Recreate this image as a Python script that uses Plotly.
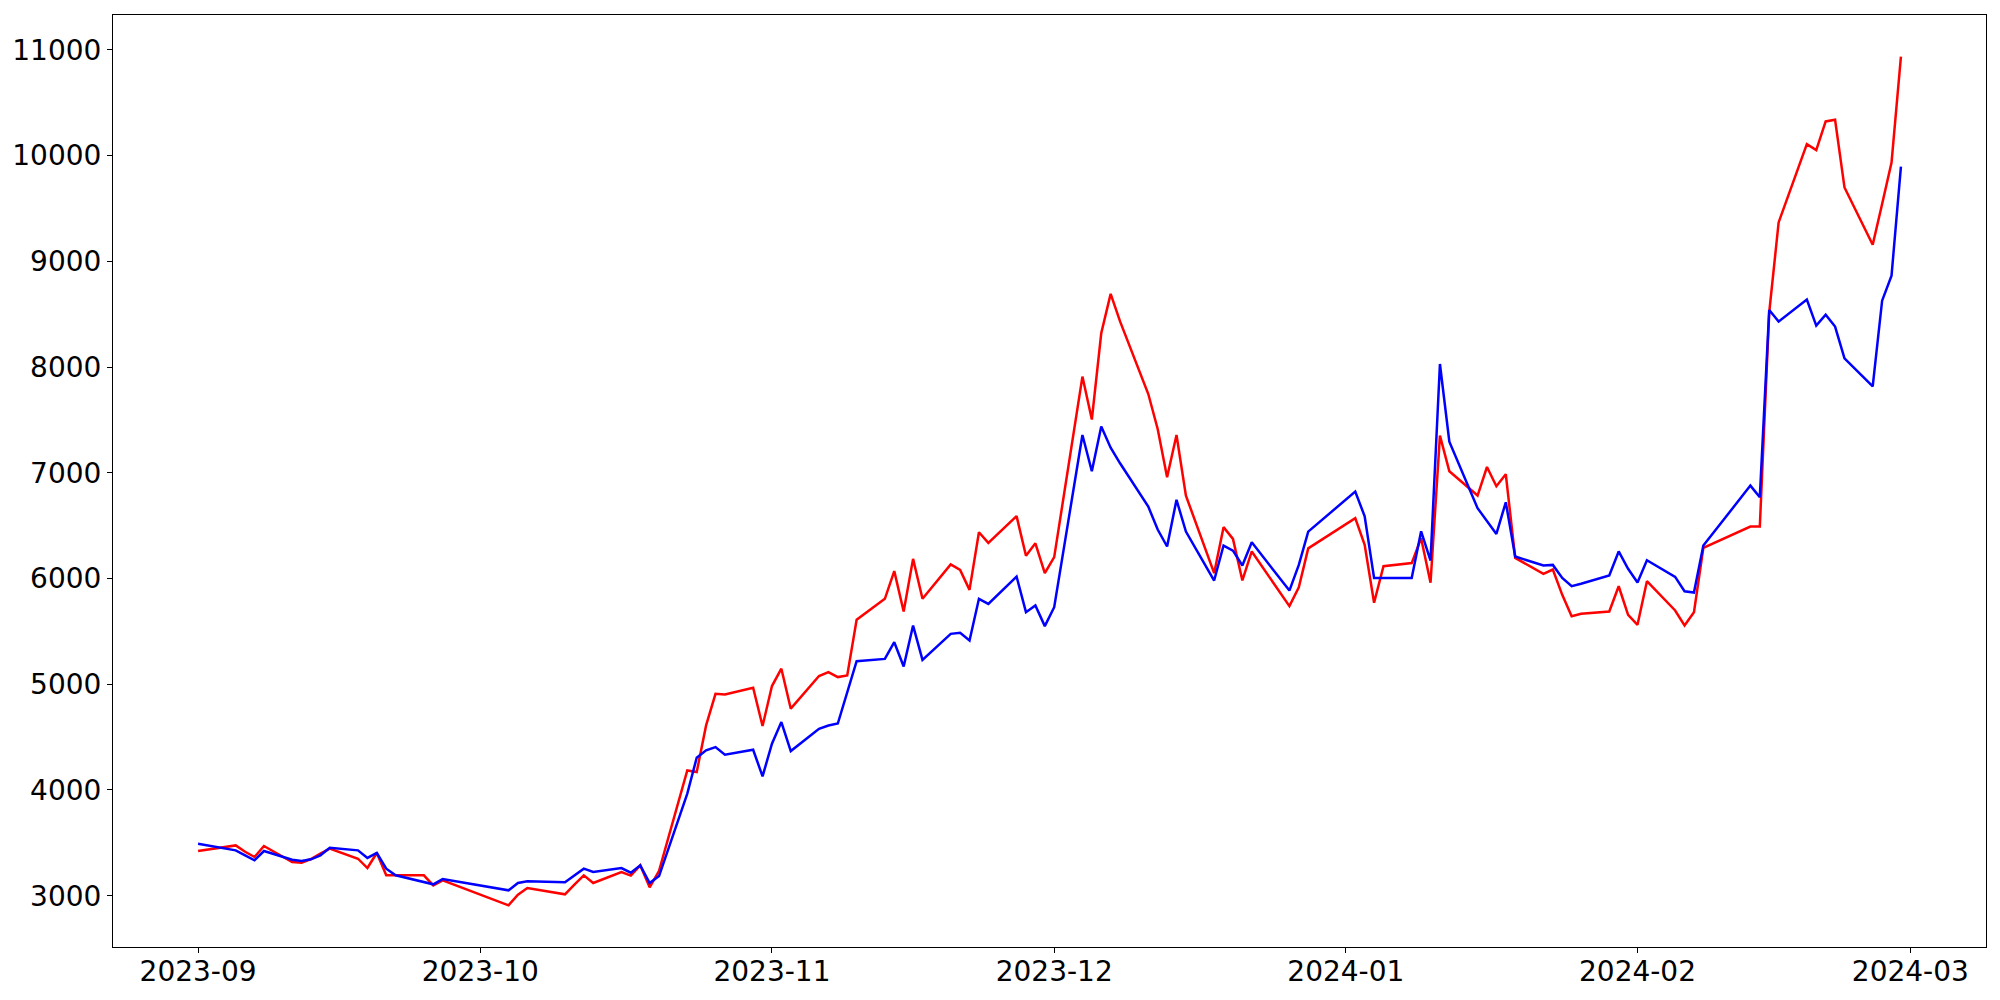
import plotly.graph_objects as go

dates = (
    ["2023-09-%02d" % d for d in [1, 4, 5, 6, 7, 8, 11, 12, 13, 14, 15, 18, 19, 20, 21, 22, 25, 26, 27]]
    + ["2023-10-%02d" % d for d in [4, 5, 6, 10, 11, 12, 13, 16, 17, 18, 19, 20, 23, 24, 25, 26, 27, 30, 31]]
    + ["2023-11-%02d" % d for d in [1, 2, 3, 6, 7, 8, 9, 10, 13, 14, 15, 16, 17, 20, 21, 22, 23, 24, 27, 28, 29, 30]]
    + ["2023-12-%02d" % d for d in [1, 4, 5, 6, 7, 8, 11, 12, 13, 14, 15, 18, 19, 20, 21, 22, 26, 27, 28]]
    + ["2024-01-%02d" % d for d in [2, 3, 4, 5, 8, 9, 10, 11, 12, 15, 16, 17, 18, 19, 22, 23, 24, 25, 26, 29, 30, 31]]
    + ["2024-02-%02d" % d for d in [1, 2, 5, 6, 7, 8, 13, 14, 15, 16, 19, 20, 21, 22, 23, 26, 27, 28, 29]]
)

red_values = [
    # Sep
    3423, 3460, 3476, 3416, 3366, 3470, 3319, 3313, 3347, 3398, 3445, 3350, 3262, 3404, 3193, 3193, 3193, 3098, 3146,
    # Oct
    2909, 3010, 3073, 3013, 3105, 3193, 3120, 3224, 3190, 3287, 3080, 3235, 4185, 4170, 4611, 4910, 4904, 4967, 4605,
    # Nov
    4983, 5147, 4769, 5078, 5115, 5068, 5084, 5610, 5808, 6070, 5689, 6186, 5808, 6133, 6082, 5893, 6438, 6337, 6590, 6215, 6333, 6051,
    # Dec
    6202, 7910, 7504, 8320, 8692, 8432, 7745, 7414, 6958, 7358, 6784, 6051, 6486, 6375, 5982, 6256, 5739, 5918, 6285,
    # Jan
    6571, 6319, 5771, 6117, 6146, 6382, 5960, 7352, 7015, 6785, 7055, 6873, 6987, 6195, 6044, 6085, 5846, 5644, 5666, 5688, 5927, 5657,
    # Feb
    5562, 5975, 5698, 5556, 5682, 6290, 6492, 6492, 8517, 9368, 10109, 10052, 10323, 10339, 9699, 9157, 9542, 9935, 10937,
]

blue_values = [
    # Sep
    3492, 3445, 3429, 3382, 3335, 3423, 3341, 3328, 3344, 3382, 3454, 3429, 3357, 3404, 3256, 3193, 3130, 3108, 3158,
    # Oct
    3051, 3120, 3136, 3127, 3193, 3256, 3224, 3262, 3218, 3287, 3120, 3186, 3965, 4305, 4375, 4406, 4334, 4381, 4129,
    # Nov
    4438, 4642, 4368, 4579, 4610, 4629, 4925, 5218, 5240, 5398, 5168, 5555, 5231, 5477, 5486, 5414, 5808, 5760, 6019, 5682, 5745, 5550,
    # Dec
    5729, 7358, 7015, 7437, 7238, 7090, 6680, 6463, 6303, 6744, 6444, 5981, 6312, 6264, 6123, 6343, 5886, 6129, 6444,
    # Jan
    6822, 6589, 6006, 6006, 6006, 6447, 6170, 8029, 7295, 6665, 6542, 6422, 6721, 6208, 6123, 6129, 6006, 5928, 5950, 6029, 6256, 6092,
    # Feb
    5962, 6173, 6016, 5880, 5868, 6312, 6879, 6769, 8540, 8430, 8638, 8392, 8496, 8383, 8083, 7818, 8628, 8865, 9895,
]

x_tick_values = ["2023-09-01", "2023-10-01", "2023-11-01", "2023-12-01", "2024-01-01", "2024-02-01", "2024-03-01"]
x_tick_labels = ["2023-09", "2023-10", "2023-11", "2023-12", "2024-01", "2024-02", "2024-03"]
y_tick_values = [3000, 4000, 5000, 6000, 7000, 8000, 9000, 10000, 11000]

fig = go.Figure()
fig.add_trace(go.Scatter(x=dates, y=red_values, mode="lines",
                         line=dict(color="#ff0000", width=2.5), showlegend=False))
fig.add_trace(go.Scatter(x=dates, y=blue_values, mode="lines",
                         line=dict(color="#0000ff", width=2.5), showlegend=False))

axis_common = dict(
    showline=True, mirror=True, linecolor="black", linewidth=1.1,
    ticks="outside", ticklen=5, tickwidth=1.1, tickcolor="black",
    showgrid=False, zeroline=False,
    tickfont=dict(family="DejaVu Sans", size=28, color="black"),
)

fig.update_layout(
    width=2000, height=1000,
    margin=dict(l=113, r=14, t=15, b=53),
    paper_bgcolor="white", plot_bgcolor="white",
    xaxis=dict(type="date", range=["2023-08-22 23:00", "2024-03-09 01:00"],
               tickvals=x_tick_values, ticktext=x_tick_labels,
               ticklabelstandoff=-6, **axis_common),
    yaxis=dict(range=[2515, 11330], tickvals=y_tick_values,
               ticktext=[str(v) for v in y_tick_values], **axis_common),
)

fig.write_html("out.html", config={"displayModeBar": False},
               post_script="document.body.style.margin='0px';")
